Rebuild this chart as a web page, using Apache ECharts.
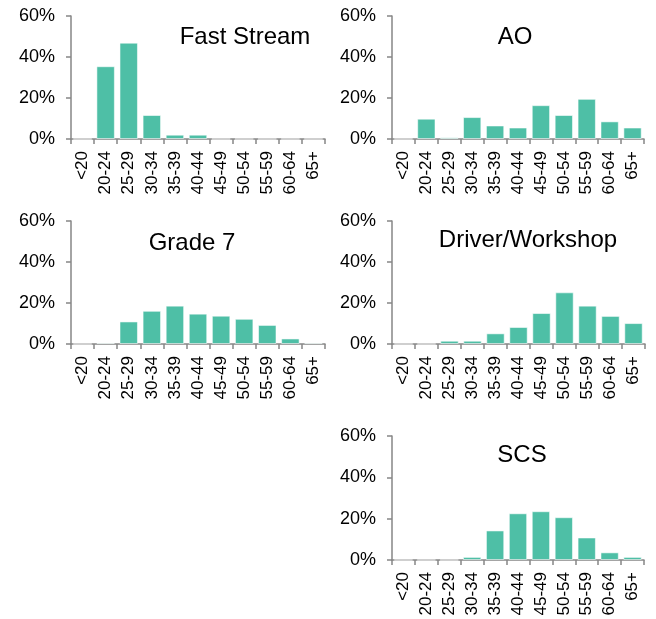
<!DOCTYPE html>
<html>
<head>
<meta charset="utf-8">
<script src="https://cdn.jsdelivr.net/npm/echarts@6/dist/echarts.min.js"></script>
<style>html,body{margin:0;padding:0;background:#fff}#main{width:656px;height:619px}</style>
</head>
<body>
<div id="main"></div>
<script>
var ageBands = ['<20', '20-24', '25-29', '30-34', '35-39', '40-44', '45-49', '50-54', '55-59', '60-64', '65+'];
var yTicks = [0, 20, 40, 60];
var fastStream = [0, 35.5, 47.0, 11.7, 2.1, 2.1, 0, 0, 0, 0, 0];
var ao = [0, 9.9, 0.8, 10.7, 6.6, 5.6, 16.5, 11.7, 19.6, 8.6, 5.6];
var grade7 = [0, 0.6, 11.0, 16.2, 18.7, 14.8, 13.8, 12.3, 9.3, 2.7, 0.6];
var driverWorkshop = [0, 0, 1.6, 1.6, 5.2, 8.3, 15.1, 25.2, 18.7, 13.7, 10.2];
var scs = [0, 0, 0, 1.5, 14.3, 22.6, 23.6, 20.7, 10.9, 3.7, 1.5];

var panels = [
    { name: 'Fast Stream', data: fastStream, grid: { left: 71, top: 16, width: 254, height: 123 }, title: [245, 25] },
    { name: 'AO', data: ao, grid: { left: 392, top: 16, width: 252, height: 123 }, title: [515, 25] },
    { name: 'Grade 7', data: grade7, grid: { left: 71, top: 221, width: 254, height: 123 }, title: [192, 231] },
    { name: 'Driver/Workshop', data: driverWorkshop, grid: { left: 392, top: 221, width: 253, height: 123 }, title: [528, 228] },
    { name: 'SCS', data: scs, grid: { left: 392, top: 436, width: 252, height: 124 }, title: [522, 443] }
];

var axisGrey = '#868686';
var chart = echarts.init(document.getElementById('main'));
var option = {
    backgroundColor: '#fff',
    animation: false,
    title: [], grid: [], xAxis: [], yAxis: [], series: []
};
panels.forEach(function (p, i) {
    option.title.push({
        text: p.name, left: p.title[0], top: p.title[1], textAlign: 'center', padding: 0,
        textStyle: { fontFamily: 'Liberation Sans', fontSize: 24, fontWeight: 'normal', color: '#000' }
    });
    option.grid.push(Object.assign({ containLabel: false }, p.grid));
    option.xAxis.push({
        type: 'category', gridIndex: i, data: ageBands,
        axisLine: { lineStyle: { color: axisGrey, width: 1.5 } },
        axisTick: { show: true, length: 5, alignWithLabel: false, lineStyle: { color: axisGrey, width: 1.5 } },
        axisLabel: { rotate: 90, interval: 0, margin: 12, color: '#000', fontFamily: 'Liberation Sans', fontSize: 17 }
    });
    option.yAxis.push({
        type: 'value', gridIndex: i, min: 0, max: 60, interval: 20,
        splitLine: { show: false },
        axisLine: { show: true, lineStyle: { color: axisGrey, width: 1.5 } },
        axisTick: { show: true, length: 5, lineStyle: { color: axisGrey, width: 1.5 } },
        axisLabel: { formatter: '{value}%', margin: 16, color: '#000', fontFamily: 'Liberation Sans', fontSize: 18 }
    });
    option.series.push({
        type: 'bar', xAxisIndex: i, yAxisIndex: i, data: p.data,
        barCategoryGap: '20%',
        itemStyle: { color: '#4ebfa6', borderColor: 'rgba(255,255,255,0.55)', borderWidth: 1 }
    });
});
chart.setOption(option);
</script>
</body>
</html>
